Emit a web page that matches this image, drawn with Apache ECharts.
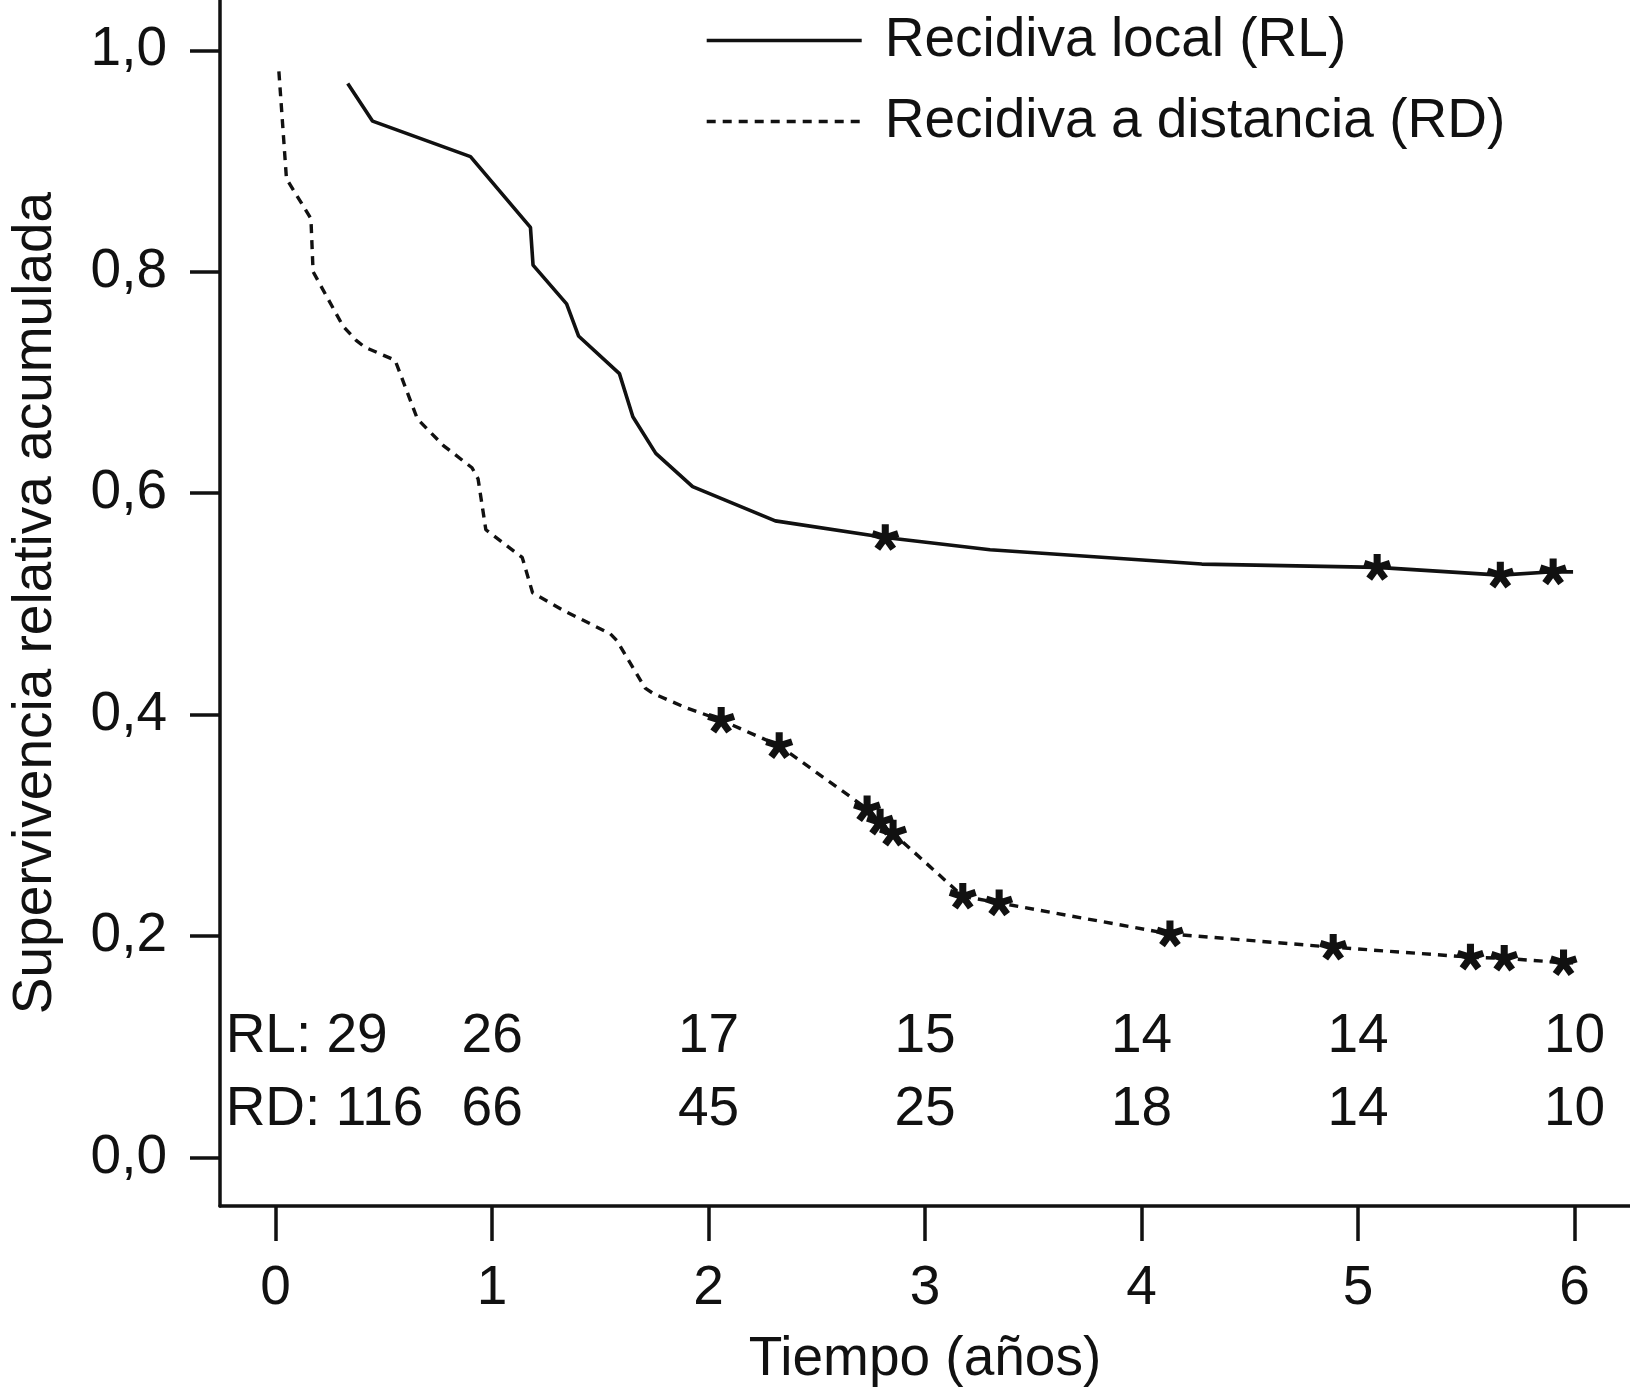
<!DOCTYPE html>
<html>
<head>
<meta charset="utf-8">
<script src="https://cdn.jsdelivr.net/npm/echarts@6/dist/echarts.min.js"></script>
<style>
html,body{margin:0;padding:0;background:#ffffff;}
#chart{width:1630px;height:1397px;}
</style>
</head>
<body>
<div id="chart"></div>
<script>
// ---------- data ----------
const seriesNames = ['Recidiva local (RL)', 'Recidiva a distancia (RD)'];
const xTicks = [0, 1, 2, 3, 4, 5, 6];
const yTicks = [0, 0.2, 0.4, 0.6, 0.8, 1.0];

// Recidiva local (RL): [años, supervivencia]
const rlCurve = [
  [0.333, 0.970], [0.448, 0.936], [0.900, 0.904], [1.177, 0.840], [1.189, 0.806],
  [1.344, 0.771], [1.399, 0.742], [1.588, 0.708], [1.650, 0.669], [1.756, 0.636],
  [1.926, 0.606], [2.308, 0.575], [2.816, 0.560], [3.300, 0.549], [4.278, 0.536],
  [5.088, 0.533], [5.657, 0.526], [5.901, 0.529], [5.993, 0.529]
];
const rlCensored = [[2.816, 0.560], [5.088, 0.533], [5.657, 0.526], [5.901, 0.529]];

// Recidiva a distancia (RD)
const rdCurve = [
  [0.015, 0.981], [0.050, 0.884], [0.163, 0.848], [0.173, 0.800], [0.311, 0.751],
  [0.372, 0.738], [0.411, 0.732], [0.552, 0.720], [0.655, 0.667], [0.775, 0.643],
  [0.907, 0.623], [0.935, 0.613], [0.971, 0.567], [1.139, 0.542], [1.187, 0.510],
  [1.331, 0.494], [1.546, 0.473], [1.576, 0.467], [1.707, 0.424], [1.745, 0.419],
  [1.899, 0.406], [2.058, 0.395], [2.326, 0.372], [2.732, 0.315], [2.792, 0.303],
  [2.852, 0.293], [3.174, 0.236], [3.342, 0.230], [4.131, 0.202], [4.885, 0.190],
  [5.519, 0.181], [5.675, 0.180], [5.949, 0.176], [5.993, 0.176]
];
const rdCensored = [
  [2.058, 0.395], [2.326, 0.372], [2.732, 0.315], [2.792, 0.303], [2.852, 0.293],
  [3.174, 0.236], [3.342, 0.230], [4.131, 0.202], [4.885, 0.190], [5.519, 0.181],
  [5.675, 0.180], [5.949, 0.176]
];

// Pacientes en riesgo
const riskYears = [0, 1, 2, 3, 4, 5, 6];
const rlAtRisk = [29, 26, 17, 15, 14, 14, 10];
const rdAtRisk = [116, 66, 45, 25, 18, 14, 10];
const riskPrefixes = ['RL', 'RD'];

// ---------- styling / building ----------
const FONT = "'Liberation Sans', Arial, Helvetica, sans-serif";
const INK = '#111111';
const FS = 55;

function asteriskPath() {
  const w = 0.26, parts = [];
  for (let k = 0; k < 5; k++) {
    const a = (-90 + 72 * k) * Math.PI / 180;
    const c = Math.cos(a), s = Math.sin(a);
    const px = -s * w, py = c * w;
    parts.push('M' + px.toFixed(4) + ' ' + py.toFixed(4) +
      'L' + (c + px).toFixed(4) + ' ' + (s + py).toFixed(4) +
      'L' + (c - px).toFixed(4) + ' ' + (s - py).toFixed(4) +
      'L' + (-px).toFixed(4) + ' ' + (-py).toFixed(4) + 'Z');
  }
  return 'path://' + parts.join('');
}
const STAR = asteriskPath();

function riskSeries(name, counts, prefix, rowY) {
  return {
    name: name,
    type: 'scatter',
    silent: true,
    symbol: 'circle',
    symbolSize: 0.01,
    itemStyle: { color: INK },
    z: 5,
    data: riskYears.map((yr, i) => {
      const item = { value: [yr, rowY, counts[i]] };
      if (i === 0) {
        item.label = { align: 'left', offset: [-50, 0], formatter: prefix + ': ' + counts[i] };
      }
      return item;
    }),
    label: {
      show: true,
      position: 'inside',
      align: 'center',
      verticalAlign: 'middle',
      fontFamily: FONT,
      fontSize: FS,
      color: INK,
      opacity: 1,
      textBorderWidth: 0,
      formatter: p => String(p.value[2])
    }
  };
}

const chart = echarts.init(document.getElementById('chart'), null, { renderer: 'canvas' });

const option = {
  animation: false,
  backgroundColor: '#ffffff',
  textStyle: { fontFamily: FONT, color: INK },
  grid: { left: 215, right: 0, top: 0, bottom: 191, containLabel: false },
  legend: {
    data: seriesNames,
    orient: 'vertical',
    left: 700,
    top: 8,
    itemWidth: 155,
    itemHeight: 30,
    itemGap: 26,
    selectedMode: false,
    itemStyle: { opacity: 0 },
    lineStyle: { width: 3.4 },
    textStyle: { fontFamily: FONT, fontSize: FS, color: INK, padding: [3, 0, 0, 18] }
  },
  xAxis: {
    type: 'value',
    min: -0.257,
    max: 6.256,
    name: 'Tiempo (años)',
    nameLocation: 'middle',
    nameGap: 126,
    nameTextStyle: { fontFamily: FONT, fontSize: FS, color: INK },
    axisLine: { show: true, onZero: false, lineStyle: { color: INK, width: 3.5 } },
    axisTick: { show: true, length: 35, customValues: xTicks, lineStyle: { color: INK, width: 3.5 } },
    axisLabel: { customValues: xTicks, fontFamily: FONT, fontSize: FS, color: INK, margin: 55,
      formatter: v => String(v) },
    splitLine: { show: false }
  },
  yAxis: {
    type: 'value',
    min: -0.0437,
    max: 1.0454,
    name: 'Supervivencia relativa acumulada',
    nameLocation: 'middle',
    nameGap: 157,
    nameTextStyle: { fontFamily: FONT, fontSize: FS, color: INK },
    axisLine: { show: true, onZero: false, lineStyle: { color: INK, width: 3.5 } },
    axisTick: { show: true, length: 30, customValues: yTicks, lineStyle: { color: INK, width: 3.5 } },
    axisLabel: { customValues: yTicks, fontFamily: FONT, fontSize: FS, color: INK, margin: 53,
      formatter: v => v.toFixed(1).replace('.', ',') },
    splitLine: { show: false }
  },
  series: [
    {
      name: seriesNames[0],
      type: 'line',
      data: rlCurve,
      symbol: 'none',
      showSymbol: false,
      smooth: false,
      lineStyle: { color: INK, width: 3.6, type: 'solid' },
      itemStyle: { color: INK },
      z: 3
    },
    {
      name: seriesNames[1],
      type: 'line',
      data: rdCurve,
      symbol: 'none',
      showSymbol: false,
      smooth: false,
      lineStyle: { color: INK, width: 3.4, type: [9, 7] },
      itemStyle: { color: INK },
      z: 3
    },
    {
      name: 'RL censurados',
      type: 'scatter',
      data: rlCensored,
      symbol: STAR,
      symbolSize: 28,
      symbolKeepAspect: true,
      itemStyle: { color: INK, opacity: 1 },
      silent: true,
      z: 4
    },
    {
      name: 'RD censurados',
      type: 'scatter',
      data: rdCensored,
      symbol: STAR,
      symbolSize: 28,
      symbolKeepAspect: true,
      itemStyle: { color: INK, opacity: 1 },
      silent: true,
      z: 4
    },
    riskSeries('En riesgo RL', rlAtRisk, riskPrefixes[0], 0.109),
    riskSeries('En riesgo RD', rdAtRisk, riskPrefixes[1], 0.043)
  ]
};

chart.setOption(option);
</script>
</body>
</html>
